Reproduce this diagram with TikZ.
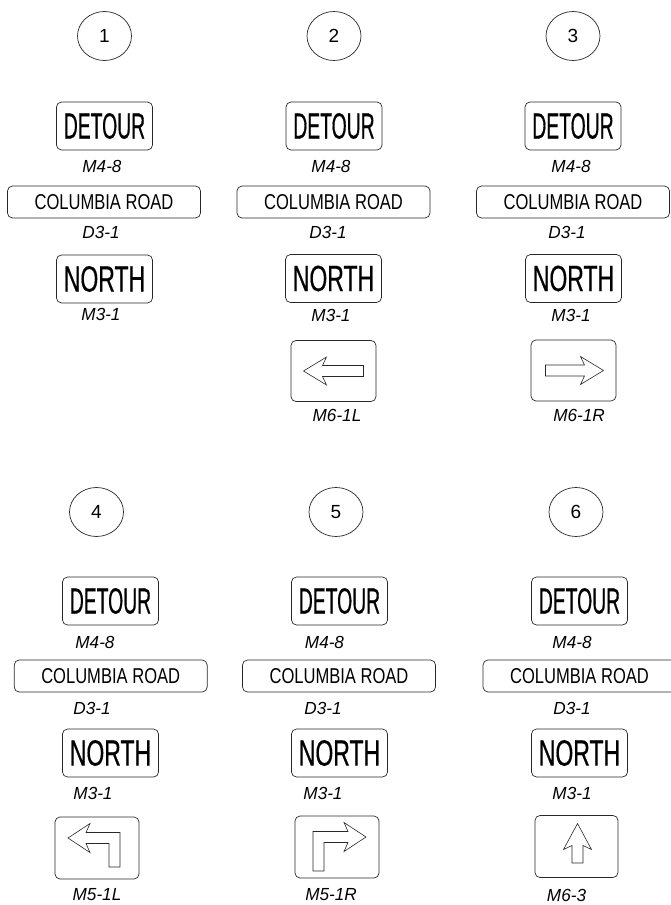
\documentclass[tikz,border=0pt]{standalone}
\usepackage{fontspec}
\setmainfont{Liberation Sans}
\newfontfamily\detourfont[FakeStretch=0.53,FakeBold=0.4]{Liberation Sans}
\newfontfamily\northfont[FakeStretch=0.63,FakeBold=0.4]{Liberation Sans}
\newfontfamily\roadfont[FakeStretch=0.77]{Liberation Sans}
\newfontfamily\codefont[FakeStretch=0.98]{Liberation Sans Italic}
\usepackage{tikz}
\usetikzlibrary{
arrows.meta,
positioning,
shapes.geometric
}
\definecolor{signline}{RGB}{40,40,40}

\begin{document}
\begin{tikzpicture}[
  x=1pt, y=-1pt,
  sign/.style={draw=signline, line width=0.7pt, rounded corners=5pt, inner sep=0pt, align=center},
  detour/.style={sign, minimum width=96pt, minimum height=48pt, font=\detourfont\fontsize{36.5pt}{36pt}\selectfont},
  north/.style={sign, minimum width=96pt, minimum height=48pt, font=\northfont\fontsize{36.5pt}{36pt}\selectfont},
  road/.style={sign, minimum width=193pt, minimum height=32pt, font=\roadfont\fontsize{21.5pt}{21pt}\selectfont},
  plate/.style={sign, minimum width=85pt, minimum height=61pt},
  code/.style={inner sep=0pt, font=\codefont\fontsize{17.5pt}{18pt}\selectfont},
  num/.style={draw=signline, line width=0.7pt, ellipse, minimum width=54pt, minimum height=49pt, inner sep=0pt, font=\fontsize{19pt}{19pt}\selectfont},
  glyph/.style={draw=signline, line width=0.6pt, line join=miter}
]
  \useasboundingbox (0,0) rectangle (670,905);

  % Panel 1
  \node[num] (c1) at (104.5,36) {1};
  \node[detour] (d1) at (104.5,126) {DETOUR};
  \node[code] (ld1) at (102,166) {M4-8};
  \node[road] (r1) at (104,202) {COLUMBIA ROAD};
  \node[code] (lr1) at (101,232) {D3-1};
  \node[north] (n1) at (104.5,279) {NORTH};
  \node[code] (ln1) at (101,314) {M3-1};

  % Panel 2
  \node[num] (c2) at (334,36) {2};
  \node[detour] (d2) at (334,126) {DETOUR};
  \node[code] (ld2) at (331,166) {M4-8};
  \node[road] (r2) at (333.5,202) {COLUMBIA ROAD};
  \node[code] (lr2) at (328,232) {D3-1};
  \node[north] (n2) at (333.5,278.5) {NORTH};
  \node[code] (ln2) at (331,315) {M3-1};
  \node[plate] (p2) at (333.5,371) {};
  \node[code] (lp2) at (337,415) {M6-1L};
  \draw[glyph, shift={(p2.center)}] (-30,0) -- (-7,-14) -- (-11,-5.5) -- (30,-5.5)
    -- (30,5.5) -- (-11,5.5) -- (-7,14) -- cycle;

  % Panel 3
  \node[num] (c3) at (573,36) {3};
  \node[detour] (d3) at (573,126) {DETOUR};
  \node[code] (ld3) at (571,166) {M4-8};
  \node[road] (r3) at (573,202) {COLUMBIA ROAD};
  \node[code] (lr3) at (567,232) {D3-1};
  \node[north] (n3) at (573.5,278.5) {NORTH};
  \node[code] (ln3) at (571,315) {M3-1};
  \node[plate] (p3) at (573.5,370.5) {};
  \node[code] (lp3) at (579,415) {M6-1R};
  \draw[glyph, shift={(p3.center)}] (30,0) -- (7,-14) -- (11,-5.5) -- (-28,-5.5)
    -- (-28,5.5) -- (11,5.5) -- (7,14) -- cycle;

  % Panel 4
  \node[num] (c4) at (96.5,512) {4};
  \node[detour] (d4) at (110.5,601) {DETOUR};
  \node[code] (ld4) at (95,642) {M4-8};
  \node[road] (r4) at (110.7,676) {COLUMBIA ROAD};
  \node[code] (lr4) at (92,708) {D3-1};
  \node[north] (n4) at (110.5,753) {NORTH};
  \node[code] (ln4) at (93,793) {M3-1};
  \node[plate, minimum width=84pt, minimum height=62pt] (p4) at (97,848) {};
  \node[code] (lp4) at (97,895) {M5-1L};
  \draw[glyph, shift={(p4.center)}] (-29,-10) -- (-7,-24.5) -- (-11,-15.5) -- (23,-15.5)
    -- (23,19) -- (12,19) -- (12,-4.5) -- (-11,-4.5) -- (-7,4.5) -- cycle;

  % Panel 5
  \node[num] (c5) at (336,512) {5};
  \node[detour] (d5) at (339.5,601) {DETOUR};
  \node[code] (ld5) at (324.5,642) {M4-8};
  \node[road] (r5) at (339,676) {COLUMBIA ROAD};
  \node[code] (lr5) at (323,708) {D3-1};
  \node[north] (n5) at (339.5,753) {NORTH};
  \node[code] (ln5) at (323,793) {M3-1};
  \node[plate, minimum width=84pt, minimum height=62pt] (p5) at (337,847) {};
  \node[code] (lp5) at (331,895) {M5-1R};
  \draw[glyph, shift={(p5.center)}] (29,-10) -- (7,-24.5) -- (11,-15.5) -- (-24,-15.5)
    -- (-24,24) -- (-13,24) -- (-13,-4.5) -- (11,-4.5) -- (7,4.5) -- cycle;

  % Panel 6
  \node[num] (c6) at (576,512) {6};
  \node[detour] (d6) at (579.5,601) {DETOUR};
  \node[code] (ld6) at (572,642) {M4-8};
  \node[road] (r6) at (579.5,676) {COLUMBIA ROAD};
  \node[code] (lr6) at (572,708) {D3-1};
  \node[north] (n6) at (579.5,753) {NORTH};
  \node[code] (ln6) at (572,793) {M3-1};
  \node[plate, minimum width=83pt, minimum height=62pt] (p6) at (576.5,846.5) {};
  \node[code] (lp6) at (566.5,895) {M6-3};
  \draw[glyph, shift={(p6.center)}] (1,-23) -- (15,3) -- (6.5,-1) -- (6.5,16.5)
    -- (-4.5,16.5) -- (-4.5,-1) -- (-13,3) -- cycle;

\end{tikzpicture}
\end{document}
